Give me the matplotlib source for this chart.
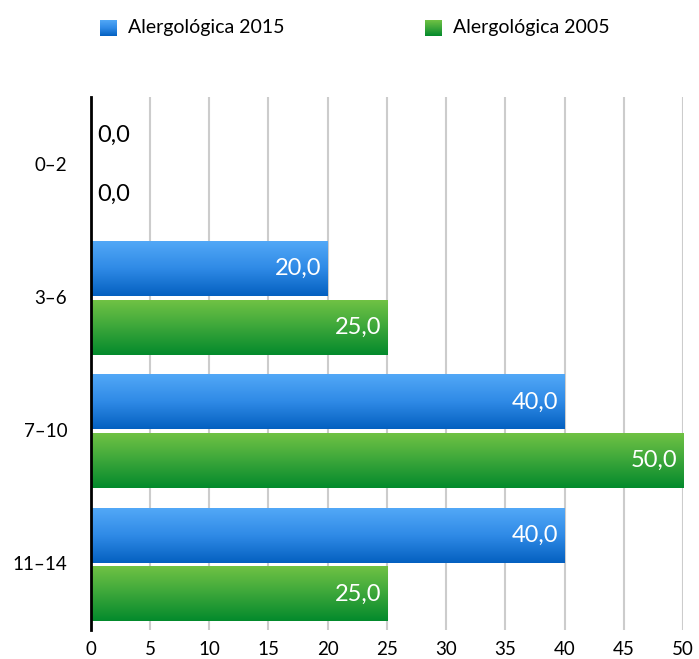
import numpy as np
import matplotlib
matplotlib.use("Agg")
import matplotlib.pyplot as plt
from matplotlib.colors import LinearSegmentedColormap

plt.rcParams['font.family'] = ['Lato', 'DejaVu Sans']

# data
categories = ['0–2', '3–6', '7–10', '11–14']
series_names = ['Alergológica 2015', 'Alergológica 2005']
values_2015 = [0.0, 20.0, 40.0, 40.0]
values_2005 = [0.0, 25.0, 50.0, 25.0]
x_ticks = [0, 5, 10, 15, 20, 25, 30, 35, 40, 45, 50]

blue_cmap = LinearSegmentedColormap.from_list('b', ['#0460c0', '#2f8ae6', '#52a8f7'])
green_cmap = LinearSegmentedColormap.from_list('g', ['#038a2c', '#3ba63a', '#70c244'])
grad = np.linspace(0, 1, 256).reshape(-1, 1)

fig = plt.figure(figsize=(6.99, 6.59), dpi=100)
ax = fig.add_axes([0.130, 0.044, 0.847, 0.809])

y = np.arange(len(categories))
h = 0.41
off = 0.21

bars_b = ax.barh(y - off, values_2015, height=h, color='none', zorder=3)
bars_g = ax.barh(y + off + 0.02, values_2005, height=h, color='none', zorder=3)

def fill_gradient(bars, cmap):
    for b in bars:
        w = b.get_width()
        if w <= 0:
            continue
        y0 = b.get_y()
        # inverted y axis: bottom of bar is y0 + height
        ax.imshow(grad, cmap=cmap, aspect='auto', origin='lower',
                  extent=[0, w, y0 + b.get_height(), y0], zorder=3)

fill_gradient(bars_b, blue_cmap)
fill_gradient(bars_g, green_cmap)

def label_bars(bars, vals):
    for b, v in zip(bars, vals):
        yc = b.get_y() + b.get_height() / 2
        txt = f'{v:.1f}'.replace('.', ',')
        if v > 0:
            ax.text(v - 0.5, yc, txt, ha='right', va='center', color='white',
                    fontsize=17, zorder=5)
        else:
            ax.text(0.5, yc, txt, ha='left', va='center', color='black',
                    fontsize=17, zorder=5)

label_bars(bars_b, values_2015)
label_bars(bars_g, values_2005)

ax.set_xlim(0, 50)
ax.set_ylim(len(categories) - 0.5, -0.5)
ax.set_xticks(x_ticks)
ax.set_xticklabels([str(t) for t in x_ticks], fontsize=13.5)
ax.set_yticks(y)
ax.set_yticklabels(categories, fontsize=13.5)
ax.tick_params(axis='both', length=0, pad=8)
ax.tick_params(axis='y', pad=17)
ax.xaxis.grid(True, color='#cccccc', linewidth=1.5, zorder=0)
ax.set_axisbelow(True)
for s in ['top', 'right', 'bottom']:
    ax.spines[s].set_visible(False)
ax.spines['left'].set_linewidth(2)
ax.spines['left'].set_zorder(6)

# legend with gradient squares
for i, (name, cmap) in enumerate(zip(series_names, [blue_cmap, green_cmap])):
    x0 = [100, 425][i]
    sq = fig.add_axes([x0 / 699, 1 - 36 / 659, 17 / 699, 16 / 659])
    sq.imshow(grad, cmap=cmap, aspect='auto', origin='lower')
    sq.axis('off')
    fig.text((x0 + 28) / 699, 1 - 28 / 659, name, fontsize=14, va='center', ha='left')

fig.savefig('out.png', dpi=100)
